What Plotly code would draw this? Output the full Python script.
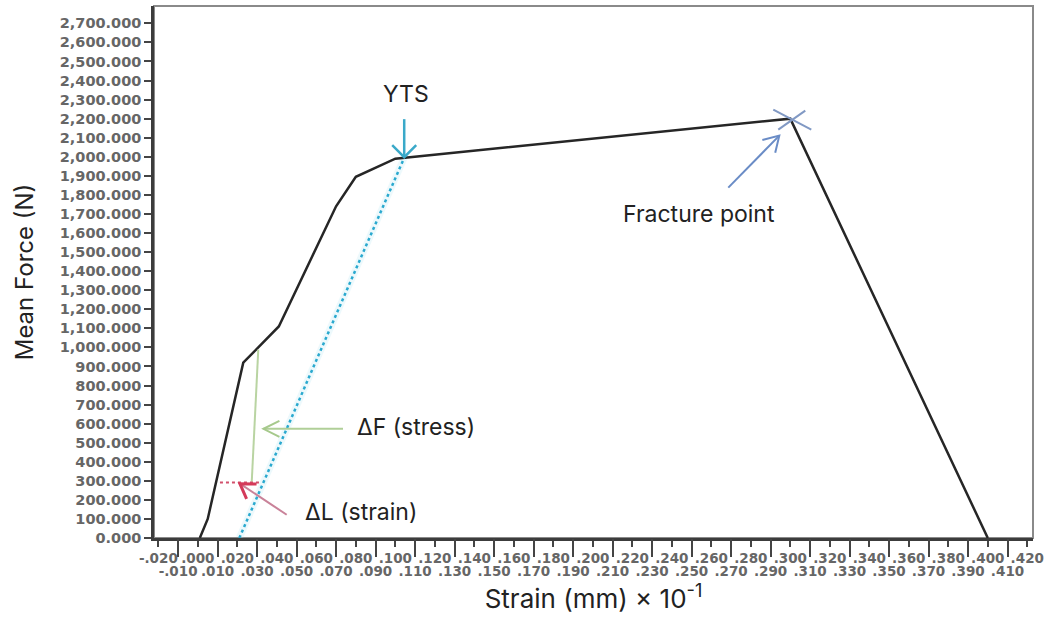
import math
import plotly.graph_objects as go

# ---------------- data ----------------
strain = [0.001, 0.005, 0.023, 0.041, 0.070, 0.080, 0.100, 0.300, 0.400]
force = [0, 100, 920, 1110, 1740, 1895, 1990, 2200, 0]

offset_strain = [0.021, 0.1045]
offset_force = [0, 1995]

x_ticks_top = [-0.02, 0.00, 0.02, 0.04, 0.06, 0.08, 0.10, 0.12, 0.14, 0.16, 0.18, 0.20,
               0.22, 0.24, 0.26, 0.28, 0.30, 0.32, 0.34, 0.36, 0.38, 0.40, 0.42]
x_ticks_bottom = [-0.01, 0.01, 0.03, 0.05, 0.07, 0.09, 0.11, 0.13, 0.15, 0.17, 0.19, 0.21,
                  0.23, 0.25, 0.27, 0.29, 0.31, 0.33, 0.35, 0.37, 0.39, 0.41]
y_ticks = [0, 100, 200, 300, 400, 500, 600, 700, 800, 900, 1000, 1100, 1200, 1300,
           1400, 1500, 1600, 1700, 1800, 1900, 2000, 2100, 2200, 2300, 2400, 2500,
           2600, 2700]

yts_index = 6
fracture_index = 7


def lab(v):
    s = f"{v:.3f}"
    return s.replace("0.", ".", 1)


# ---------------- geometry helpers ----------------
W, H = 1046, 622
ML, MR, MT, MB = 154, 13, 6, 84
X0, X1 = -0.0222, 0.4229
Y0, Y1 = 0, 2791
SX = (W - ML - MR) / (X1 - X0)
SY = (H - MT - MB) / (Y1 - Y0)


def off(pt, dx, dy):
    """offset a data point by pixels (dy positive = down)"""
    return (pt[0] + dx / SX, pt[1] - dy / SY)


def head_path(tail, head, L, Wd):
    vx = (head[0] - tail[0]) * SX
    vy = -(head[1] - tail[1]) * SY
    n = math.hypot(vx, vy)
    ux, uy = vx / n, vy / n
    nx, ny = -uy, ux
    l = off(head, -ux * L + nx * Wd, -uy * L + ny * Wd)
    r = off(head, -ux * L - nx * Wd, -uy * L - ny * Wd)
    return f"M{l[0]},{l[1]} L{head[0]},{head[1]} L{r[0]},{r[1]}"


def line_path(a, b):
    return f"M{a[0]},{a[1]} L{b[0]},{b[1]}"


fig = go.Figure()

# faint glow under offset line
fig.add_trace(go.Scatter(x=offset_strain, y=offset_force, mode="lines",
                         line=dict(color="rgba(175,228,240,0.22)", width=7),
                         hoverinfo="skip", showlegend=False))
fig.add_trace(go.Scatter(x=offset_strain, y=offset_force, mode="lines",
                         line=dict(color="#2aa9cf", width=2.5, dash="dot"),
                         showlegend=False))
fig.add_trace(go.Scatter(x=strain, y=force, mode="lines",
                         line=dict(color="#262626", width=2.5),
                         showlegend=False))
# invisible trace bound to the second x axis (odd ticks row)
fig.add_trace(go.Scatter(x=[x_ticks_bottom[0]], y=[0], mode="markers",
                         marker=dict(opacity=0), xaxis="x2", hoverinfo="skip",
                         showlegend=False))

yts = (strain[yts_index] + 0.0045, force[yts_index] + 8)
frac = (strain[fracture_index], force[fracture_index])

shapes = []
# border
shapes.append(dict(type="rect", xref="paper", yref="paper", x0=0, x1=1, y0=0, y1=1,
                   line=dict(color="#8a8a8a", width=2), layer="below"))

# YTS arrow
yts_tail = off(yts, 0, -38)
shapes.append(dict(type="path", xref="x", yref="y", path=line_path(yts_tail, yts),
                   line=dict(color="#3aa9c9", width=2.5)))
shapes.append(dict(type="path", xref="x", yref="y", path=head_path(yts_tail, yts, 12, 12),
                   line=dict(color="#3aa9c9", width=2.5)))

# Fracture X marker
shapes.append(dict(type="path", xref="x", yref="y",
                   path=line_path(off(frac, -17, -9), off(frac, 21, 11)),
                   line=dict(color="#8199c4", width=2)))
shapes.append(dict(type="path", xref="x", yref="y",
                   path=line_path(off(frac, -12, 11), off(frac, 15, -8)),
                   line=dict(color="#8199c4", width=2)))
# Fracture arrow
fr_head = off(frac, -11, 17)
fr_tail = off(frac, -62, 69)
shapes.append(dict(type="path", xref="x", yref="y", path=line_path(fr_tail, fr_head),
                   line=dict(color="#6a8cc6", width=2)))
shapes.append(dict(type="path", xref="x", yref="y", path=head_path(fr_tail, fr_head, 15, 9),
                   line=dict(color="#6a8cc6", width=2)))

# dF (stress) vertical guide and arrow
shapes.append(dict(type="line", xref="x", yref="y", x0=0.0306, y0=988, x1=0.0273, y1=295,
                   line=dict(color="#b9d4a2", width=2)))
df_tail = (0.0735, 573)
df_head = (0.0332, 573)
shapes.append(dict(type="path", xref="x", yref="y", path=line_path(df_tail, df_head),
                   line=dict(color="#b0cf98", width=2)))
shapes.append(dict(type="path", xref="x", yref="y", path=head_path(df_tail, df_head, 16, 8),
                   line=dict(color="#a6c98c", width=2)))

# dL (strain) dotted guide and arrow
shapes.append(dict(type="line", xref="x", yref="y", x0=0.0112, y0=291, x1=0.0324, y1=291,
                   line=dict(color="#d2506c", width=2, dash="dot")))
dl_tail = (0.0450, 122)
dl_head = (0.0213, 285)
shapes.append(dict(type="path", xref="x", yref="y", path=line_path(dl_tail, dl_head),
                   line=dict(color="#c98299", width=2)))
shapes.append(dict(type="path", xref="x", yref="y", path=head_path(dl_tail, dl_head, 14, 9),
                   line=dict(color="#d43a5a", width=3)))

fig.update_layout(shapes=shapes)

txt_font = dict(family="Inter, Roboto, sans-serif", size=23, color="#222222")
fig.add_annotation(x=0.1052, y=2329, text="YTS", showarrow=False, font=txt_font,
                   xanchor="center", yanchor="middle")
fig.add_annotation(x=0.2142, y=1701, text="Fracture point", showarrow=False, font=txt_font,
                   xanchor="left", yanchor="middle")
fig.add_annotation(x=0.0796, y=584, text="ΔF (stress)", showarrow=False, font=txt_font,
                   xanchor="left", yanchor="middle")
fig.add_annotation(x=0.0532, y=138, text="ΔL (strain)", showarrow=False, font=txt_font,
                   xanchor="left", yanchor="middle")

ytick_font = dict(family="DejaVu Sans", size=14.5, color="#666666", weight="bold")
xtick_font = dict(family="DejaVu Sans", size=13.5, color="#666666", weight="bold")

fig.update_layout(
    width=W, height=H,
    margin=dict(l=ML, r=MR, t=MT, b=MB),
    paper_bgcolor="white", plot_bgcolor="white",
    xaxis=dict(
        range=[X0, X1], tickmode="array", tickvals=x_ticks_top,
        ticktext=[lab(v) for v in x_ticks_top],
        ticks="outside", ticklen=6, tickwidth=2, tickcolor="#444444",
        showline=True, linecolor="#3c3c3c", linewidth=2.5,
        showgrid=False, zeroline=False, tickfont=xtick_font, automargin=False,
        title=dict(text="Strain (mm) × 10<sup>-1</sup>", standoff=25,
                   font=dict(family="Inter, Roboto, sans-serif", size=26, color="#222222")),
    ),
    xaxis2=dict(
        overlaying="x", anchor="y", side="bottom", range=[X0, X1],
        tickmode="array", tickvals=x_ticks_bottom,
        ticktext=[lab(v) for v in x_ticks_bottom],
        ticks="outside", ticklen=18, tickwidth=2, tickcolor="#444444",
        ticklabelstandoff=3, automargin=False,
        showline=False, showgrid=False, zeroline=False, tickfont=xtick_font,
    ),
    yaxis=dict(
        range=[Y0, Y1], tickmode="array", tickvals=y_ticks, tickformat=",.3f",
        ticks="outside", ticklen=7, tickwidth=2, tickcolor="#444444",
        showline=True, linecolor="#3c3c3c", linewidth=2.5, automargin=False,
        showgrid=False, zeroline=False, tickfont=ytick_font,
        title=dict(text="Mean Force (N)", standoff=20,
                   font=dict(family="Inter, Roboto, sans-serif", size=24, color="#222222")),
    ),
)

fig.write_html("out.html", config={"displayModeBar": False},
               post_script="document.body.style.margin='0';")
